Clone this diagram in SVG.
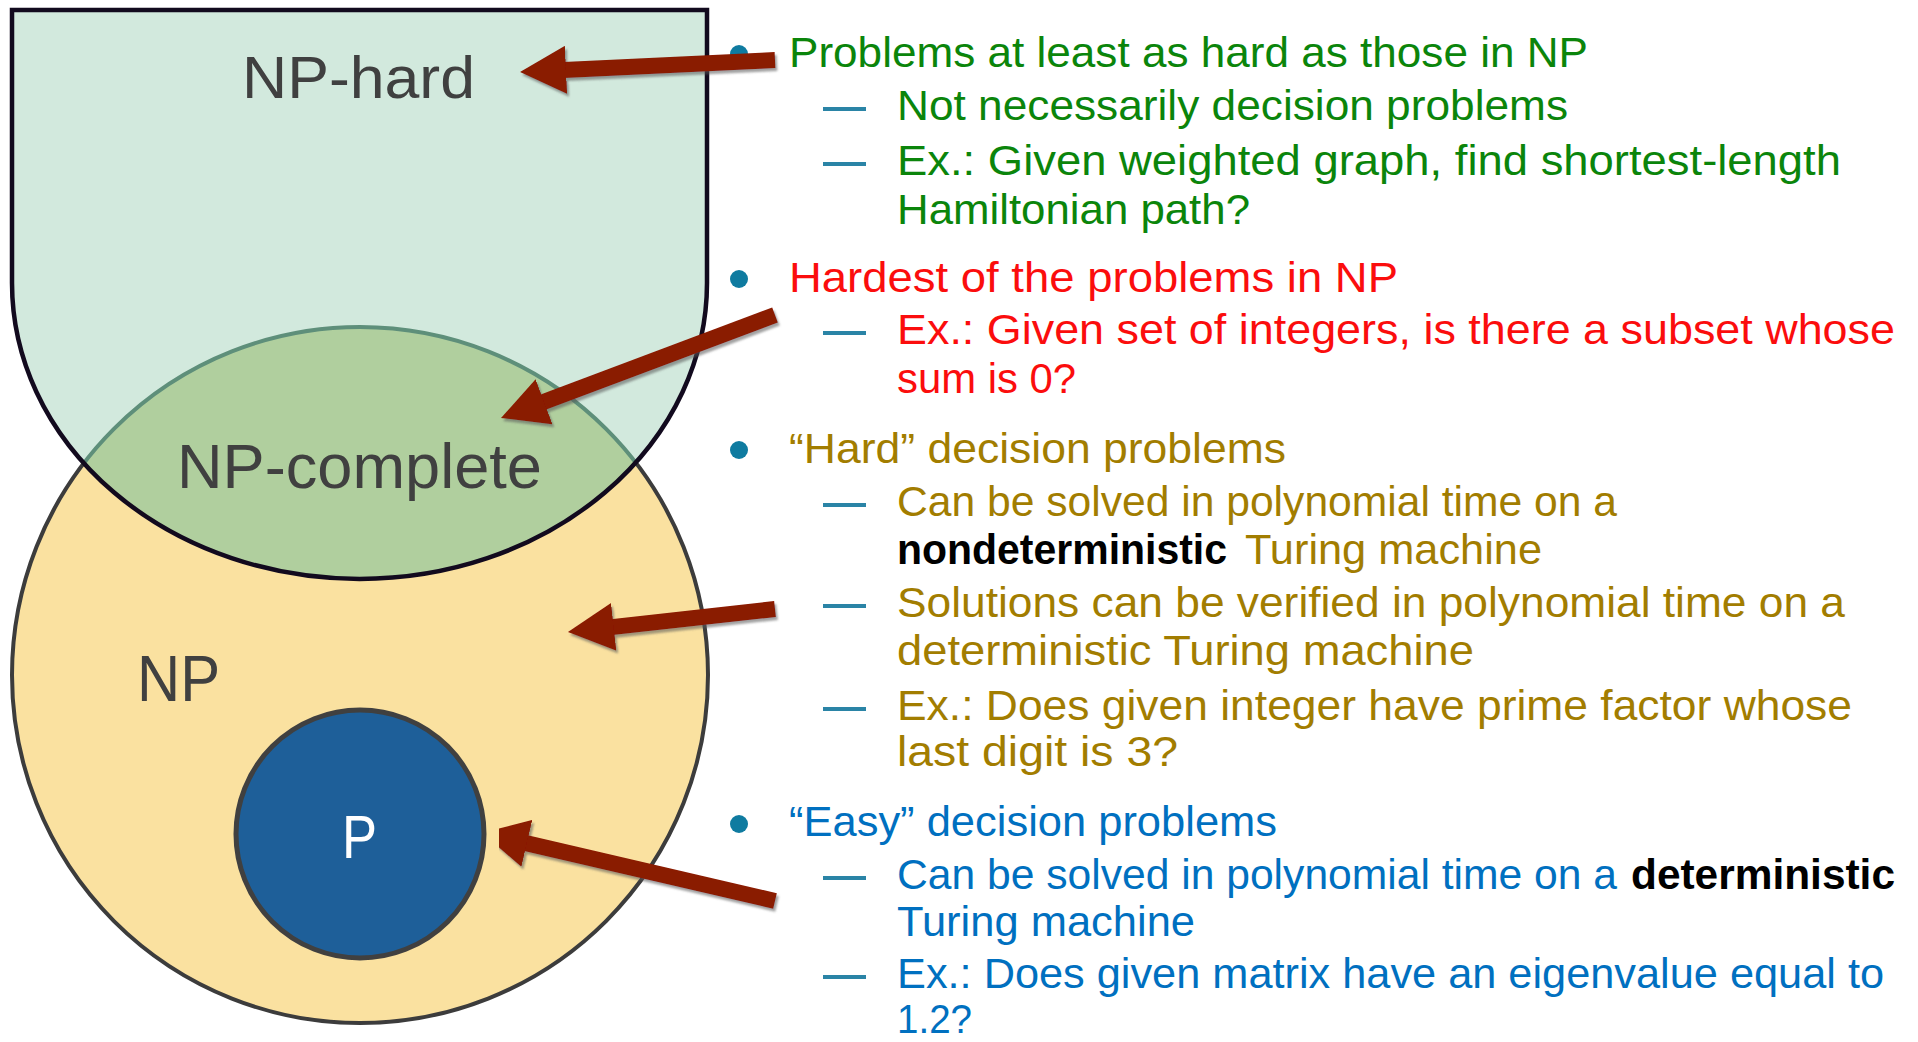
<svg xmlns="http://www.w3.org/2000/svg" width="1918" height="1042" viewBox="0 0 1918 1042">
<style>
.lbl{font-family:"Liberation Sans",Arial,sans-serif;fill:#404040}
.t{font-family:"Liberation Sans",Arial,sans-serif;font-size:42px}
.g{fill:#0b850b}
.r{fill:#fb0d0d}
.o{fill:#a27d00}
.b{fill:#0070c0}
.k{fill:#000;font-weight:bold}
.dash{stroke:#2a84a6;stroke-width:4}
.dot{fill:#0f7ba0}
.arrow{stroke:#8a1a06;stroke-width:16;fill:none;marker-end:url(#ah)}
</style>
<defs>
<path id="hardShape" d="M12,10 H707 V283 A347.5,296 0 0 1 12,283 Z"/>
<clipPath id="hardClip"><use href="#hardShape"/></clipPath>
<marker id="ah" markerUnits="userSpaceOnUse" viewBox="0 0 48 48" markerWidth="48" markerHeight="48" refX="2" refY="24" orient="auto">
<path d="M0,0 L46,24 L0,48 Z" fill="#8a1a06"/>
</marker>
<filter id="sh" x="-10%" y="-20%" width="130%" height="150%">
<feDropShadow dx="2" dy="3" stdDeviation="1" flood-color="#555" flood-opacity="0.55"/>
</filter>
</defs>
<rect width="1918" height="1042" fill="#fff"/>

<g id="node-np">
<circle cx="360" cy="675" r="348" fill="#fae1a0" stroke="#3c3c3c" stroke-width="4"/>
</g>
<g id="node-np-hard">
<use href="#hardShape" fill="#d2e9dd"/>
<text class="lbl" x="242" y="98" font-size="60" textLength="233" lengthAdjust="spacingAndGlyphs">NP-hard</text>
</g>
<g id="node-np-complete">
<circle cx="360" cy="675" r="348" fill="#b0cf9e" stroke="#5e8f7a" stroke-width="4" clip-path="url(#hardClip)"/>
<use href="#hardShape" fill="none" stroke="#120a1e" stroke-width="4.5"/>
<text class="lbl" x="177" y="488" font-size="63" textLength="365" lengthAdjust="spacingAndGlyphs">NP-complete</text>
</g>
<g id="node-np-label">
<text class="lbl" x="137" y="701" font-size="64" textLength="83" lengthAdjust="spacingAndGlyphs">NP</text>
</g>
<g id="node-p">
<circle cx="360" cy="834" r="124" fill="#1e5f99" stroke="#404040" stroke-width="5"/>
<text class="lbl" x="342" y="858" font-size="62" textLength="35" lengthAdjust="spacingAndGlyphs" style="fill:#fff">P</text>
</g>

<g id="item-np-hard" class="t">
<circle class="dot" cx="739" cy="54" r="9"/>
<text class="g" x="789" y="67" textLength="799" lengthAdjust="spacingAndGlyphs">Problems at least as hard as those in NP</text>
<line class="dash" x1="823" y1="109" x2="866" y2="109"/>
<text class="g" x="897" y="120" textLength="671" lengthAdjust="spacingAndGlyphs">Not necessarily decision problems</text>
<line class="dash" x1="823" y1="164" x2="866" y2="164"/>
<text class="g" x="897" y="175" textLength="944" lengthAdjust="spacingAndGlyphs">Ex.: Given weighted graph, find shortest-length</text>
<text class="g" x="897" y="224" textLength="353" lengthAdjust="spacingAndGlyphs">Hamiltonian path?</text>
</g>

<g id="item-np-complete" class="t">
<circle class="dot" cx="739" cy="279" r="9"/>
<text class="r" x="789" y="292" textLength="609" lengthAdjust="spacingAndGlyphs">Hardest of the problems in NP</text>
<line class="dash" x1="823" y1="333" x2="866" y2="333"/>
<text class="r" x="897" y="344" textLength="998" lengthAdjust="spacingAndGlyphs">Ex.: Given set of integers, is there a subset whose</text>
<text class="r" x="897" y="393" textLength="179" lengthAdjust="spacingAndGlyphs">sum is 0?</text>
</g>

<g id="item-np" class="t">
<circle class="dot" cx="739" cy="450" r="9"/>
<text class="o" x="789" y="463" textLength="497" lengthAdjust="spacingAndGlyphs">“Hard” decision problems</text>
<line class="dash" x1="823" y1="505" x2="866" y2="505"/>
<text class="o" x="897" y="516" textLength="720" lengthAdjust="spacingAndGlyphs">Can be solved in polynomial time on a</text>
<text class="k" x="897" y="564" textLength="330" lengthAdjust="spacingAndGlyphs">nondeterministic</text>
<text class="o" x="1245" y="564" textLength="297" lengthAdjust="spacingAndGlyphs">Turing machine</text>
<line class="dash" x1="823" y1="606" x2="866" y2="606"/>
<text class="o" x="897" y="617" textLength="948" lengthAdjust="spacingAndGlyphs">Solutions can be verified in polynomial time on a</text>
<text class="o" x="897" y="665" textLength="577" lengthAdjust="spacingAndGlyphs">deterministic Turing machine</text>
<line class="dash" x1="823" y1="709" x2="866" y2="709"/>
<text class="o" x="897" y="720" textLength="955" lengthAdjust="spacingAndGlyphs">Ex.: Does given integer have prime factor whose</text>
<text class="o" x="897" y="766" textLength="281" lengthAdjust="spacingAndGlyphs">last digit is 3?</text>
</g>

<g id="item-p" class="t">
<circle class="dot" cx="739" cy="824" r="9"/>
<text class="b" x="789" y="836" textLength="488" lengthAdjust="spacingAndGlyphs">“Easy” decision problems</text>
<line class="dash" x1="823" y1="878" x2="866" y2="878"/>
<text class="b" x="897" y="889" textLength="720" lengthAdjust="spacingAndGlyphs">Can be solved in polynomial time on a</text>
<text class="k" x="1631" y="889" textLength="264" lengthAdjust="spacingAndGlyphs">deterministic</text>
<text class="b" x="897" y="936" textLength="298" lengthAdjust="spacingAndGlyphs">Turing machine</text>
<line class="dash" x1="823" y1="977" x2="866" y2="977"/>
<text class="b" x="897" y="988" textLength="987" lengthAdjust="spacingAndGlyphs">Ex.: Does given matrix have an eigenvalue equal to</text>
<text class="b" x="897" y="1033" font-size="40" textLength="75" lengthAdjust="spacingAndGlyphs">1.2?</text>
</g>

<g id="connectors" filter="url(#sh)">
<line class="arrow" x1="775" y1="60" x2="564" y2="69.9"/>
<line class="arrow" x1="775" y1="315" x2="542.2" y2="402.5"/>
<line class="arrow" x1="775" y1="609" x2="611.7" y2="627.1"/>
<line class="arrow" x1="775" y1="901" x2="524.9" y2="842.9"/>
</g>
</svg>
